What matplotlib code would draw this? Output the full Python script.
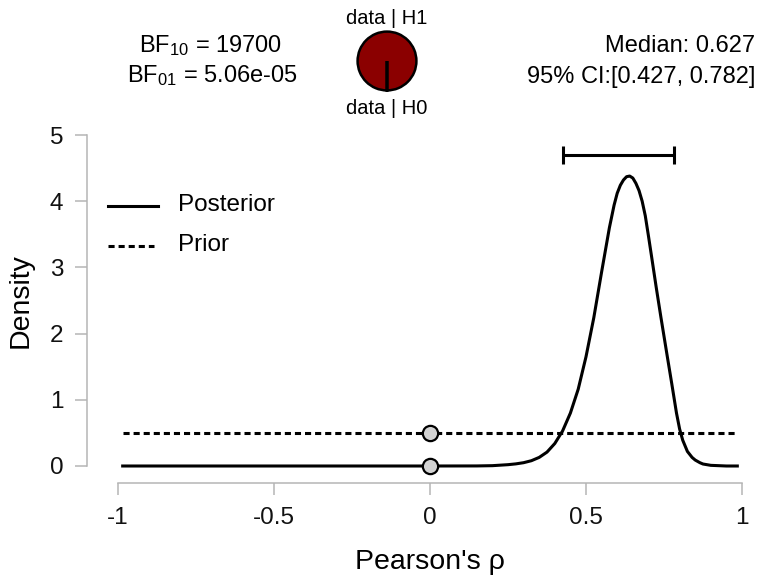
import matplotlib
matplotlib.use("Agg")
import matplotlib.pyplot as plt
from matplotlib.lines import Line2D

plt.rcParams['font.family'] = ['Liberation Sans', 'DejaVu Sans']
plt.rcParams['mathtext.fontset'] = 'custom'
plt.rcParams['mathtext.rm'] = 'Liberation Sans'
plt.rcParams['mathtext.it'] = 'Liberation Sans:italic'
plt.rcParams['mathtext.bf'] = 'Liberation Sans:bold'

# ---------------- data ----------------
rho = [-0.985, 0.0, 0.15, 0.20, 0.25, 0.275, 0.30, 0.325, 0.35, 0.375, 0.40,
       0.425, 0.45, 0.475, 0.50, 0.525, 0.55, 0.575, 0.59, 0.60, 0.61, 0.62,
       0.63, 0.64, 0.65, 0.66, 0.67, 0.68, 0.69, 0.70, 0.71, 0.725, 0.74,
       0.75, 0.76, 0.775, 0.79, 0.80, 0.81, 0.825, 0.84, 0.85, 0.865, 0.875,
       0.90, 0.95, 0.985]
posterior = [0.0, 0.0, 0.001, 0.005, 0.02, 0.032, 0.05, 0.08, 0.13, 0.21, 0.34,
             0.53, 0.80, 1.16, 1.65, 2.24, 2.93, 3.60, 3.94, 4.12, 4.24, 4.32,
             4.37, 4.38, 4.35, 4.27, 4.16, 4.00, 3.78, 3.48, 3.17, 2.70, 2.25,
             1.96, 1.67, 1.24, 0.80, 0.56, 0.39, 0.22, 0.13, 0.09, 0.05, 0.03,
             0.01, 0.0, 0.0]
prior_x = [-0.985, 0.985]
prior_y = [0.5, 0.5]
point_x = [0.0, 0.0]
point_y = [0.0, 0.5]          # posterior and prior density at rho = 0
ci_lower, ci_upper = 0.427, 0.782
bf10 = 19700
bf01_text = "5.06e-05"
median = 0.627
x_ticks = [-1, -0.5, 0, 0.5, 1]
x_ticklabels = ['-1', '-0.5', '0', '0.5', '1']
y_ticks = [0, 1, 2, 3, 4, 5]
y_ticklabels = ['0', '1', '2', '3', '4', '5']

# ---------------- figure ----------------
W, H = 765, 584
fig = plt.figure(figsize=(W / 100, H / 100), dpi=100)

def fx(px):
    return px / W

def fy(py):
    return 1 - py / H

ax = fig.add_axes([fx(118), fy(466), (742 - 118) / W, (466 - 135) / H])
ax.set_xlim(-1, 1)
ax.set_ylim(0, 5)

LW = 2.2
ax.plot(prior_x, prior_y, color='black', lw=LW, linestyle=(0, (2.0, 1.3)),
        clip_on=False, zorder=3)
ax.plot(rho, posterior, color='black', lw=LW, solid_joinstyle='round',
        clip_on=False, zorder=4)
ax.plot(point_x, point_y, linestyle='none', marker='o', markersize=11,
        markerfacecolor='#d3d3d3', markeredgecolor='black', markeredgewidth=1.6,
        clip_on=False, zorder=5)

# credible interval bar
ci_y = 4.70
cap = 0.14
ax.plot([ci_lower, ci_upper], [ci_y, ci_y], color='black', lw=LW, clip_on=False,
        solid_capstyle='butt')
ax.plot([ci_lower, ci_lower], [ci_y - cap, ci_y + cap], color='black', lw=LW,
        clip_on=False, solid_capstyle='butt')
ax.plot([ci_upper, ci_upper], [ci_y - cap, ci_y + cap], color='black', lw=LW,
        clip_on=False, solid_capstyle='butt')

# axes styling (R-like)
spine_col = '#b5b5b5'
for s in ['top', 'right']:
    ax.spines[s].set_visible(False)
ax.spines['left'].set_position(('outward', 22.3))
ax.spines['bottom'].set_position(('outward', 12.2))
for s in ['left', 'bottom']:
    ax.spines[s].set_color(spine_col)
    ax.spines[s].set_linewidth(1.1)
ax.set_xticks(x_ticks)
ax.set_xticklabels(x_ticklabels)
ax.set_yticks(y_ticks)
ax.set_yticklabels(y_ticklabels)
ax.tick_params(axis='both', direction='out', length=8.6, width=1.1,
               color=spine_col, labelsize=17.5, labelcolor='#111111', pad=8.5)

ax.set_xlabel("Pearson's \u03c1", fontsize=20.5)
ax.xaxis.set_label_coords(0.5, -0.251)
ax.set_ylabel("Density", fontsize=20.5)
ax.yaxis.set_label_coords(-0.135, 0.5)

# legend drawn manually
x0 = (108 - 118) / 624
ax.add_line(Line2D([x0, (158 - 118) / 624], [(466 - 206) / 331] * 2,
                   transform=ax.transAxes, color='black', lw=LW, clip_on=False))
ax.add_line(Line2D([x0, (154 - 118) / 624], [(466 - 246) / 331] * 2,
                   transform=ax.transAxes, color='black', lw=LW,
                   linestyle=(0, (2.0, 1.3)), clip_on=False))
ax.text((178 - 118) / 624, (466 - 205) / 331, "Posterior", transform=ax.transAxes,
        fontsize=17.5, va='center', ha='left')
ax.text((178 - 118) / 624, (466 - 245) / 331, "Prior", transform=ax.transAxes,
        fontsize=17.5, va='center', ha='left')

# header texts
fig.text(fx(211), fy(52.5), r"BF$_{10}$ = " + f"{bf10}", fontsize=17,
         ha='center', va='baseline')
fig.text(fx(212), fy(82.5), r"BF$_{01}$ = " + bf01_text, fontsize=17,
         ha='center', va='baseline')
fig.text(fx(755), fy(52.5), f"Median: {median:.3f}", fontsize=17,
         ha='right', va='baseline')
fig.text(fx(755), fy(82.5), f"95% CI:[{ci_lower:.3f}, {ci_upper:.3f}]",
         fontsize=17, ha='right', va='baseline')

# pie of p(data|H1) vs p(data|H0)
r = 30
pax = fig.add_axes([fx(387 - r), fy(61 + r), 2 * r / W, 2 * r / H])
pax.pie([bf10, 1], colors=['#8b0000', 'white'], startangle=270,
        counterclock=False, radius=1.0,
        wedgeprops=dict(edgecolor='black', linewidth=1.8))
pax.set_xlim(-1.02, 1.02)
pax.set_ylim(-1.02, 1.02)
pax.set_aspect('equal')
pax.axis('off')
fig.text(fx(387), fy(24), "data | H1", fontsize=14.5, ha='center', va='baseline')
fig.text(fx(387), fy(114), "data | H0", fontsize=14.5, ha='center', va='baseline')

fig.savefig("out.png", dpi=100)
